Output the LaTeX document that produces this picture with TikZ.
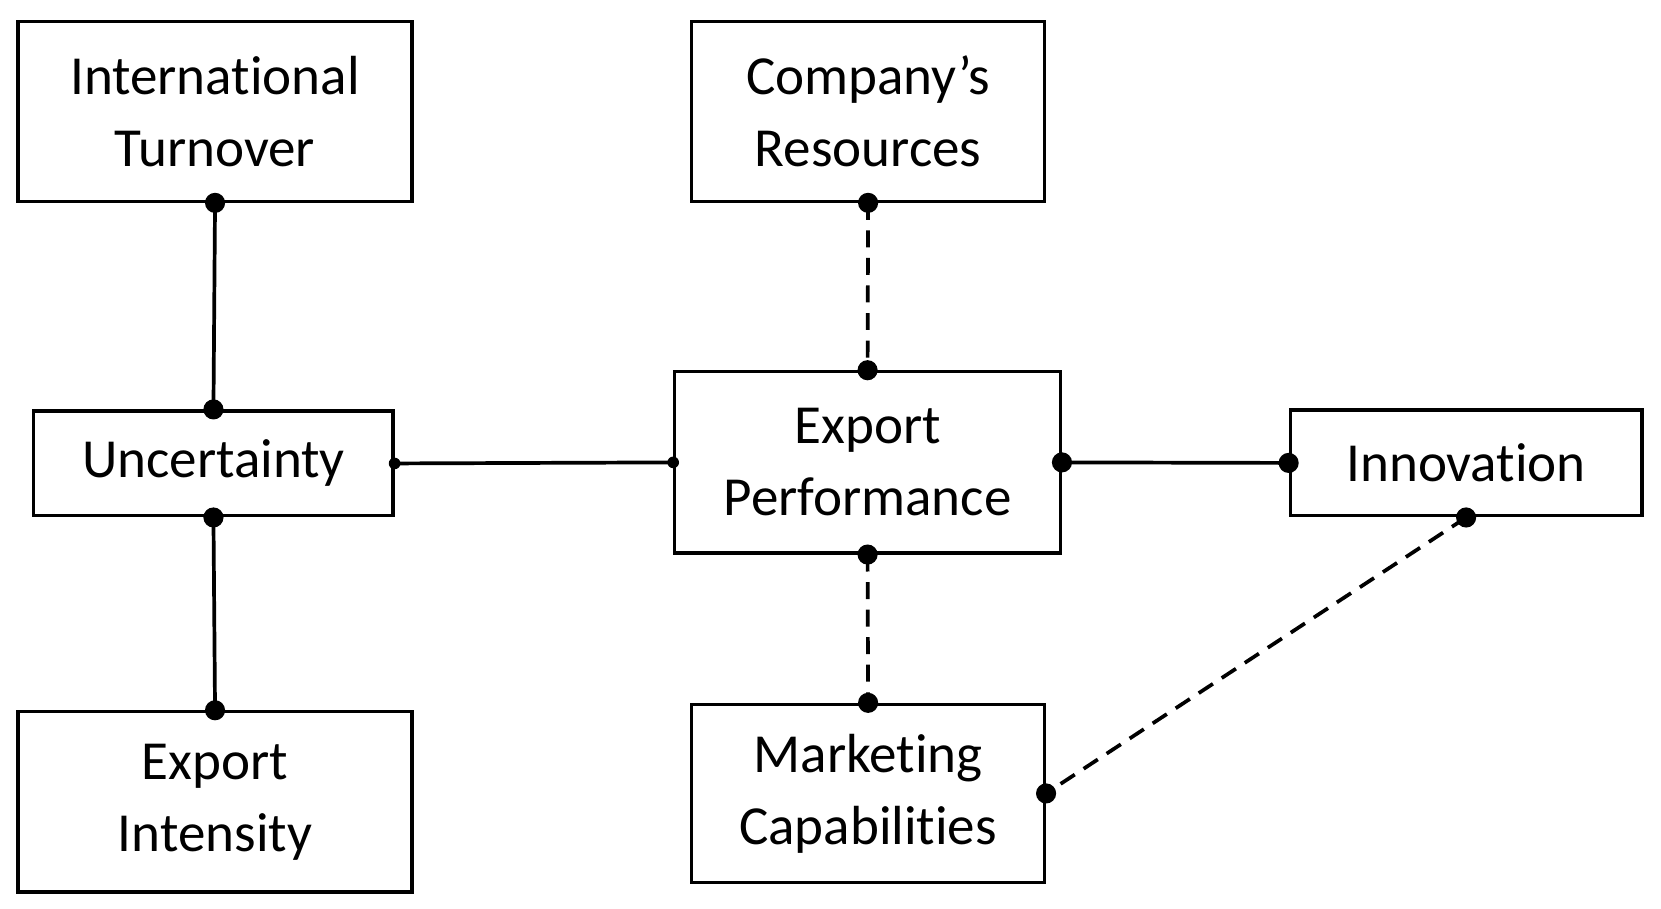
\documentclass[tikz,border=0pt]{standalone}
\usepackage{fontspec}
\setmainfont{Carlito}[Ligatures=NoCommon]
\begin{document}
\begin{tikzpicture}[x=1pt,y=-1pt,
 box/.style={draw,line width=3pt,inner sep=0pt,align=center,font=\fontsize{52}{68}\selectfont},
 ln/.style={line width=3.5pt},
 dsh/.style={ln,dash pattern=on 16pt off 10pt},
 dot/.style={circle,fill,inner sep=0pt,minimum size=19pt}]
\useasboundingbox (0,0) rectangle (1568,858);
\node[box,minimum width=372pt,minimum height=170pt] (it) at (203,105) {International\\Turnover};
\node[box,minimum width=333pt,minimum height=170pt] (cr) at (819.5,105) {Company’s\\Resources};
\node[box,minimum width=339pt,minimum height=99pt] (un) at (201.5,437.5) {Uncertainty};
\node[box,minimum width=364pt,minimum height=171pt] (ep) at (819,436.5) {Export\\Performance};
\node[box,minimum width=332pt,minimum height=100pt] (in) at (1384,437) {Innovation};
\node[box,minimum width=372pt,minimum height=170pt] (ei) at (203,757) {Export\\Intensity};
\node[box,minimum width=333pt,minimum height=168pt] (mc) at (819.5,749) {Marketing\\Capabilities};
\draw[ln] (it.south) -- (un.north);
\draw[ln] (un.south) -- (ei.north);
\draw[ln] (un.east) -- (ep.west);
\draw[ln] (ep.east) -- (in.west);
\draw[dsh] (cr.south) -- (ep.north);
\draw[dsh] (ep.south) -- (mc.north);
\draw[dsh] (in.south) -- (mc.east);
\foreach \p in {it.south,un.north,un.south,ei.north,ep.east,in.west,cr.south,ep.north,ep.south,mc.north,in.south,mc.east}
 \node[dot] at (\p) {};
\foreach \p in {un.east,ep.west}
 \node[dot,minimum size=11pt] at (\p) {};
\end{tikzpicture}
\end{document}
